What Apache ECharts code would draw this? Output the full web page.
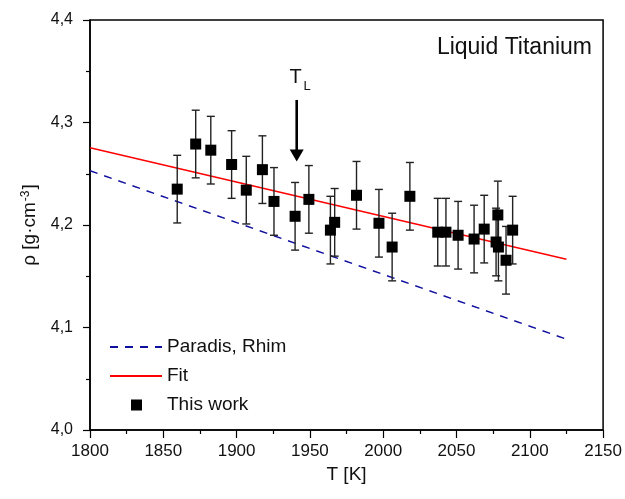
<!DOCTYPE html>
<html>
<head>
<meta charset="utf-8">
<script src="https://cdn.jsdelivr.net/npm/echarts@6/dist/echarts.min.js"></script>
<style>html,body{margin:0;padding:0;background:#fff}#c{width:625px;height:499px}</style>
</head>
<body>
<div id="c"></div>
<script>
// Data
const temps = [1859.5, 1872.1, 1882.4, 1896.6, 1906.6, 1917.6, 1925.5, 1939.9, 1949.3, 1964.0, 1966.9,
  1981.8, 1997.1, 2006.1, 2018.2, 2037.2, 2042.8, 2051.1, 2062.0, 2068.9, 2078.2, 2077.0, 2078.6, 2083.8, 2088.3];
const rhos = [4.235, 4.279, 4.273, 4.259, 4.234, 4.254, 4.223, 4.2085, 4.225, 4.195, 4.2026,
  4.229, 4.2017, 4.1785, 4.228, 4.193, 4.193, 4.190, 4.1863, 4.196, 4.2098, 4.1834, 4.1785, 4.1656, 4.195];
const errs = [0.033, 0.033, 0.033, 0.033, 0.033, 0.033, 0.033, 0.033, 0.033, 0.033, 0.033,
  0.033, 0.033, 0.033, 0.033, 0.033, 0.033, 0.033, 0.033, 0.033, 0.033, 0.033, 0.033, 0.033, 0.033];
const fitLine = [[1800, 4.2754], [2125, 4.1666]];
const paradisLine = [[1800, 4.253], [2125, 4.0886]];
const arrowT = [1941];
const arrowTop = [4.322];
const arrowTip = [4.262];
const tlLabelRho = 4.344;
const xTicks = [1800, 1850, 1900, 1950, 2000, 2050, 2100, 2150];
const yTicks = [4.0, 4.1, 4.2, 4.3, 4.4];

const pts = temps.map((t, i) => [t, rhos[i], errs[i]]);
const arrowData = arrowT.map((t, i) => [t, arrowTop[i], arrowTip[i], tlLabelRho]);
const font = 'Liberation Sans, Arial, sans-serif';

const chart = echarts.init(document.getElementById('c'), null, {renderer: 'canvas'});
chart.setOption({
  animation: false,
  backgroundColor: '#fff',
  title: {
    text: 'Liquid Titanium', right: 28, top: 31,
    textStyle: {fontFamily: font, fontSize: 23, fontWeight: 'normal', color: '#111'}
  },
  legend: {
    orient: 'vertical', left: 104, top: 332, itemWidth: 52, itemHeight: 14, itemGap: 9,
    textStyle: {fontFamily: font, fontSize: 19, lineHeight: 20, color: '#111'},
    data: [
      {name: 'Paradis, Rhim', itemStyle: {opacity: 0}},
      {name: 'Fit', itemStyle: {opacity: 0}},
      {name: 'This work', icon: 'image://data:image/svg+xml;utf8,' + encodeURIComponent('<svg xmlns="http://www.w3.org/2000/svg" width="52" height="14"><rect x="21" y="1.5" width="11" height="11" fill="black"/></svg>')}
    ]
  },
  grid: {left: 90, right: 17, top: 20, bottom: 69, show: true, borderColor: '#000', borderWidth: 1.5, containLabel: false},
  xAxis: {
    type: 'value', min: xTicks[0], max: xTicks[xTicks.length - 1], interval: 50,
    name: 'T [K]', nameLocation: 'middle', nameGap: 34,
    nameTextStyle: {fontFamily: font, fontSize: 19, color: '#111'},
    axisLine: {lineStyle: {color: '#000', width: 1.5}},
    axisTick: {inside: false, length: 8, lineStyle: {color: '#000', width: 1.2}},
    minorTick: {show: true, splitNumber: 2, length: 4, lineStyle: {color: '#000', width: 1.2}},
    axisLabel: {fontFamily: font, fontSize: 17, color: '#111', margin: 13, formatter: v => String(v)},
    splitLine: {show: false}
  },
  yAxis: {
    type: 'value', min: yTicks[0], max: yTicks[yTicks.length - 1], interval: 0.1,
    name: '{a|ρ [g·cm}{s|-3}{a|]}', nameLocation: 'middle', nameGap: 50, nameRotate: 90,
    nameTextStyle: {fontFamily: font, fontSize: 19, color: '#111',
      rich: {a: {fontFamily: font, fontSize: 19, color: '#111'},
             s: {fontFamily: font, fontSize: 12, color: '#111', verticalAlign: 'top', padding: [0, 1, 8, 1]}}},
    axisLine: {lineStyle: {color: '#000', width: 1.5}},
    axisTick: {inside: false, length: 7, lineStyle: {color: '#000', width: 1.2}},
    minorTick: {show: true, splitNumber: 2, length: 4, lineStyle: {color: '#000', width: 1.2}},
    axisLabel: {fontFamily: font, fontSize: 16, color: '#111', margin: 17,
      formatter: v => v.toFixed(1).replace('.', ',')},
    splitLine: {show: false}
  },
  series: [
    {
      name: 'Paradis, Rhim', type: 'line', data: paradisLine, symbol: 'none',
      lineStyle: {color: '#1010a0', width: 1.5, type: [8, 7]}, itemStyle: {color: '#1010a0'}, z: 2
    },
    {
      name: 'Fit', type: 'line', data: fitLine, symbol: 'none',
      lineStyle: {color: '#ff0000', width: 1.5}, itemStyle: {color: '#ff0000'}, z: 3
    },
    {
      name: 'arrow', type: 'custom', data: arrowData, z: 6, silent: true,
      encode: {x: 0, y: 1},
      renderItem: function (params, api) {
        const x = api.value(0);
        const top = api.coord([x, api.value(1)]);
        const tip = api.coord([x, api.value(2)]);
        const lab = api.coord([x, api.value(3)]);
        const headL = 12, headW = 7;
        return {type: 'group', children: [
          {type: 'line', shape: {x1: top[0], y1: top[1], x2: tip[0], y2: tip[1] - headL + 1},
            style: {stroke: '#000', lineWidth: 2.6}},
          {type: 'polygon', shape: {points: [[tip[0], tip[1]], [tip[0] - headW, tip[1] - headL], [tip[0] + headW, tip[1] - headL]]},
            style: {fill: '#000'}},
          {type: 'text', x: lab[0] - 1, y: lab[1],
            style: {text: 'T', font: '20px ' + font, fill: '#111', align: 'center', verticalAlign: 'middle'}},
          {type: 'text', x: lab[0] + 10.5, y: lab[1] + 9,
            style: {text: 'L', font: '13px ' + font, fill: '#111', align: 'center', verticalAlign: 'middle'}}
        ]};
      }
    },
    {
      name: 'errbars', type: 'custom', data: pts, z: 4, silent: true,
      encode: {x: 0, y: 1},
      renderItem: function (params, api) {
        const x = api.value(0), y = api.value(1), e = api.value(2);
        const top = api.coord([x, y + e]), bot = api.coord([x, y - e]);
        const w = 4;
        const st = {stroke: '#222', lineWidth: 1.4};
        return {type: 'group', children: [
          {type: 'line', shape: {x1: top[0], y1: top[1], x2: bot[0], y2: bot[1]}, style: st},
          {type: 'line', shape: {x1: top[0] - w, y1: top[1], x2: top[0] + w, y2: top[1]}, style: st},
          {type: 'line', shape: {x1: bot[0] - w, y1: bot[1], x2: bot[0] + w, y2: bot[1]}, style: st}
        ]};
      }
    },
    {
      name: 'This work', type: 'scatter', data: pts.map(p => [p[0], p[1]]), symbol: 'rect', symbolSize: 11,
      itemStyle: {color: '#000', opacity: 1}, z: 5
    }
  ]
});
</script>
</body>
</html>
